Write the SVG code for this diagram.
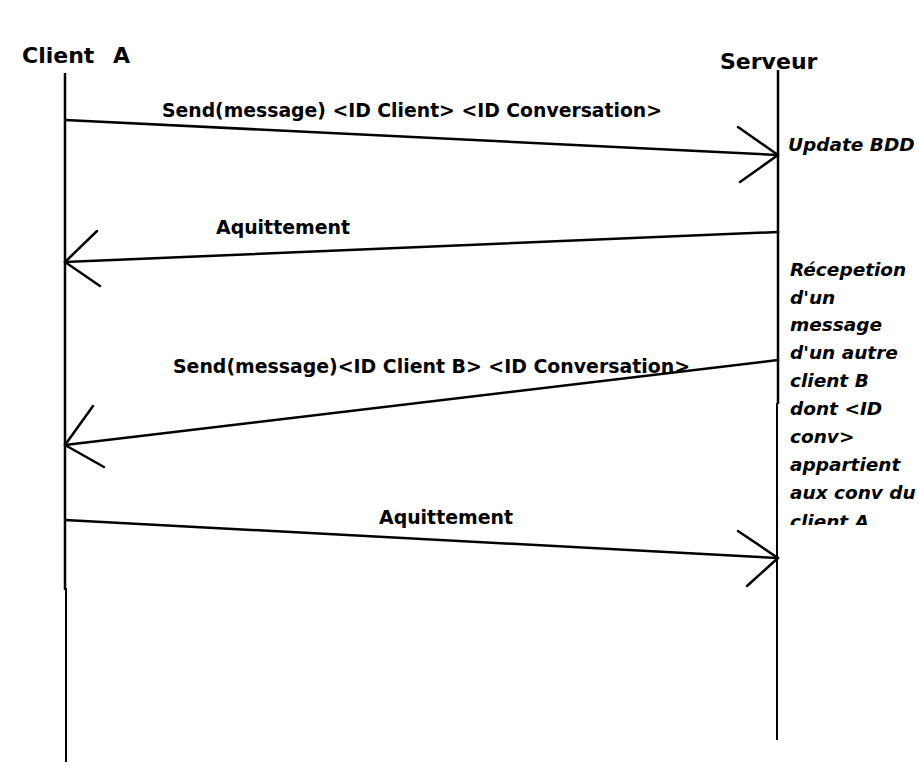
<svg xmlns="http://www.w3.org/2000/svg" width="919" height="766" viewBox="0 0 919 766">
<style>
.ln{stroke:#000;stroke-width:2.5;fill:none;stroke-linecap:round;stroke-linejoin:round}
.life{stroke:#000;stroke-width:2.5;fill:none}
.t{font-family:"DejaVu Sans","Liberation Sans",Arial,sans-serif;font-weight:bold;fill:#000}
.h{font-size:22px}
.m{font-size:19px}
.n{font-size:18.5px;font-style:italic}
</style>
<defs>
<clipPath id="clipNote"><rect x="780" y="250" width="139" height="275"/></clipPath>
</defs>
<rect width="919" height="766" fill="#fff"/>
<g id="clientA">
<text class="t h" x="22" y="63">Client<tspan x="113">A</tspan></text>
<line class="life" x1="65" y1="73" x2="65" y2="590"/>
<line class="life" x1="66" y1="588" x2="66" y2="762" style="stroke-width:2"/>
</g>
<g id="serveur">
<text class="t h" x="720" y="69">Serveur</text>
<line class="life" x1="778" y1="70" x2="778" y2="404"/>
<line class="life" x1="777" y1="403" x2="777" y2="740" style="stroke-width:2"/>
</g>
<g id="notes">
<text class="t n" x="788" y="151">Update BDD</text>
<g clip-path="url(#clipNote)">
<text class="t n" x="790" y="276">Récepetion</text>
<text class="t n" x="790" y="303.5">d'un</text>
<text class="t n" x="790" y="331">message</text>
<text class="t n" x="790" y="359">d'un autre</text>
<text class="t n" x="790" y="387">client B</text>
<text class="t n" x="790" y="415">dont &lt;ID</text>
<text class="t n" x="790" y="443">conv&gt;</text>
<text class="t n" x="790" y="471">appartient</text>
<text class="t n" x="790" y="499">aux conv du</text>
<text class="t n" x="790" y="528">client A</text>
</g>
</g>
<g id="connectors">
<line class="ln" x1="65" y1="120" x2="778" y2="155"/>
<polyline class="ln" points="738,127 778,155 740,182"/>
<text class="t m" x="162" y="117" textLength="500" lengthAdjust="spacingAndGlyphs">Send(message) &lt;ID Client&gt; &lt;ID Conversation&gt;</text>

<line class="ln" x1="778" y1="232" x2="65" y2="262"/>
<polyline class="ln" points="97,231 65,262 100,286"/>
<text class="t m" x="216" y="234" textLength="134" lengthAdjust="spacingAndGlyphs">Aquittement</text>

<line class="ln" x1="778" y1="360" x2="65" y2="445"/>
<polyline class="ln" points="93,406 65,445 104,467"/>
<text class="t m" x="173" y="373" textLength="517" lengthAdjust="spacingAndGlyphs">Send(message)&lt;ID Client B&gt; &lt;ID Conversation&gt;</text>

<line class="ln" x1="65" y1="520" x2="778" y2="558"/>
<polyline class="ln" points="738,531 778,558 747,586"/>
<text class="t m" x="379" y="524" textLength="134" lengthAdjust="spacingAndGlyphs">Aquittement</text>
</g>
</svg>
